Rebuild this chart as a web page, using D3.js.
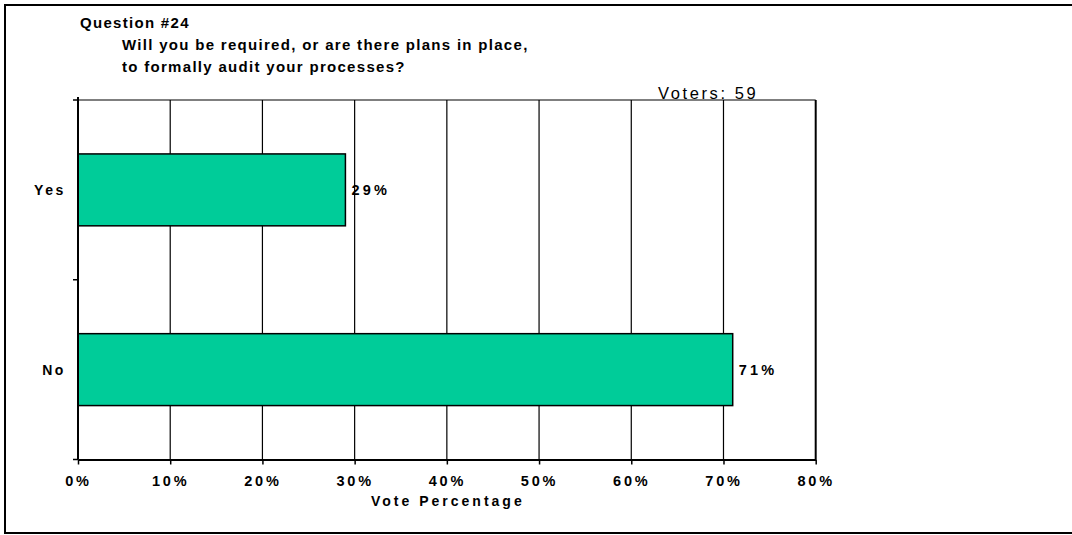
<!DOCTYPE html>
<html>
<head>
<meta charset="utf-8">
<script src="https://cdn.jsdelivr.net/npm/d3@7"></script>
<style>
  html, body { margin: 0; padding: 0; background: #fff; }
  svg { display: block; font-family: "Liberation Sans", Arial, sans-serif; }
</style>
</head>
<body>
<svg id="chart" width="1072" height="535"></svg>
<script>
// Poll results for question #24
const categories = ["Yes", "No"];
const votePercent = [29, 71];
const tickValues = [0, 10, 20, 30, 40, 50, 60, 70, 80];
const titleLines = [
  "Question #24",
  "Will you be required, or are there plans in place,",
  "to formally audit your processes?"
];
const votersLabel = "Voters: 59";
const axisTitle = "Vote Percentage";

const svg = d3.select("#chart");
const plot = { left: 78, right: 815.7, top: 100, bottom: 459.5 };

// outer frame
svg.append("rect")
  .attr("x", 5).attr("y", 5).attr("width", 1072).attr("height", 528)
  .attr("fill", "none").attr("stroke", "#000").attr("stroke-width", 2);

const x = d3.scaleLinear().domain([0, 80]).range([plot.left, plot.right]);
const y = d3.scaleBand().domain(categories).range([plot.top, plot.bottom])
  .paddingInner(0.6).paddingOuter(0.3);

// vertical gridlines
svg.append("g").selectAll("line")
  .data(tickValues.filter(d => d > 0 && d < 80))
  .join("line")
  .attr("x1", d => x(d)).attr("x2", d => x(d))
  .attr("y1", plot.top).attr("y2", plot.bottom)
  .attr("stroke", "#000").attr("stroke-width", 1.2);

// top and right edges of the plot box
svg.append("line")
  .attr("x1", plot.left).attr("x2", plot.right)
  .attr("y1", plot.top).attr("y2", plot.top)
  .attr("stroke", "#000").attr("stroke-width", 1.2);
svg.append("line")
  .attr("x1", plot.right).attr("x2", plot.right)
  .attr("y1", plot.top).attr("y2", plot.bottom)
  .attr("stroke", "#000").attr("stroke-width", 2);

// bars
svg.append("g").selectAll("rect")
  .data(categories.map((c, i) => ({ c, v: votePercent[i] })))
  .join("rect")
  .attr("x", x(0))
  .attr("y", d => y(d.c))
  .attr("width", d => x(d.v) - x(0))
  .attr("height", y.bandwidth())
  .attr("fill", "#00CC99")
  .attr("stroke", "#000").attr("stroke-width", 1.5);

// value labels
svg.append("g").selectAll("text")
  .data(categories.map((c, i) => ({ c, v: votePercent[i] })))
  .join("text")
  .attr("x", d => x(d.v) + 6)
  .attr("y", d => y(d.c) + y.bandwidth() / 2 + 5)
  .attr("font-size", 14.5).attr("font-weight", "bold")
  .attr("letter-spacing", 3.2)
  .text(d => d.v + "%");

// bottom axis
const xAxis = d3.axisBottom(x).tickValues(tickValues)
  .tickFormat(d => d + "%").tickSize(5).tickSizeOuter(0);
const gx = svg.append("g").attr("transform", `translate(0,${plot.bottom})`).call(xAxis);
gx.select(".domain").attr("stroke-width", 2);
gx.selectAll(".tick line").attr("stroke-width", 1.5);
gx.selectAll(".tick text")
  .attr("y", 16).attr("dy", "0.71em")
  .attr("font-size", 14.5).attr("font-weight", "bold")
  .attr("letter-spacing", 2.8).attr("fill", "#000")
  .attr("font-family", "Liberation Sans, Arial, sans-serif");

// left axis: ticks at category boundaries
const yEdges = d3.scaleLinear().domain([0, categories.length]).range([plot.top, plot.bottom]);
svg.append("line")
  .attr("x1", plot.left).attr("x2", plot.left)
  .attr("y1", plot.top - 3).attr("y2", plot.bottom)
  .attr("stroke", "#000").attr("stroke-width", 2);
svg.append("g").selectAll("line")
  .data(d3.range(categories.length + 1))
  .join("line")
  .attr("x1", plot.left - 5).attr("x2", plot.left)
  .attr("y1", d => yEdges(d)).attr("y2", d => yEdges(d))
  .attr("stroke", "#000").attr("stroke-width", 1.5);

// category labels
svg.append("g").selectAll("text")
  .data(categories)
  .join("text")
  .attr("x", plot.left - 12)
  .attr("y", d => y(d) + y.bandwidth() / 2 + 5)
  .attr("text-anchor", "end")
  .attr("font-size", 14).attr("font-weight", "bold")
  .attr("letter-spacing", 2.6)
  .text(d => d);

// axis title
svg.append("text")
  .attr("x", (plot.left + plot.right) / 2 + 1)
  .attr("y", 506)
  .attr("text-anchor", "middle")
  .attr("font-size", 14).attr("font-weight", "bold")
  .attr("letter-spacing", 3)
  .text(axisTitle);

// voter count
svg.append("text")
  .attr("x", 658).attr("y", 99)
  .attr("font-size", 16.5)
  .attr("letter-spacing", 2.6)
  .text(votersLabel);

// title block
const titlePos = [{ x: 80, y: 28 }, { x: 122, y: 50 }, { x: 122, y: 72 }];
svg.append("g").selectAll("text")
  .data(titleLines)
  .join("text")
  .attr("x", (d, i) => titlePos[i].x)
  .attr("y", (d, i) => titlePos[i].y)
  .attr("font-size", 15).attr("font-weight", "bold")
  .attr("letter-spacing", 1.3)
  .text(d => d);
</script>
</body>
</html>
